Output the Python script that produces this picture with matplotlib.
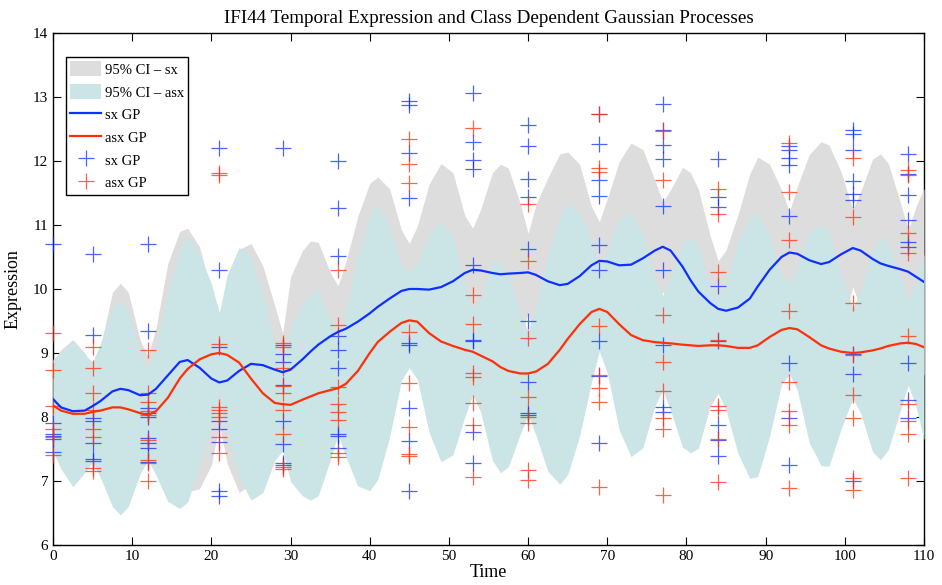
import numpy as np
import matplotlib
matplotlib.use('Agg')
import matplotlib.pyplot as plt
from matplotlib.patches import Patch
from matplotlib.lines import Line2D

plt.rcParams['font.family'] = ['Liberation Serif', 'DejaVu Serif']

# sampling times of the two classes
times = [0, 5, 12, 21, 29, 36, 45, 53, 60, 69, 77, 84, 93, 101, 108]

# observed expression per time point
sx_obs = [
    [10.70, 7.90, 7.74, 7.71, 7.65, 7.45],
    [10.55, 9.28, 7.98, 7.94, 7.60, 7.34, 7.31],
    [10.70, 9.35, 8.14, 8.06, 8.00, 7.67, 7.60, 7.51, 7.30],
    [12.21, 10.29, 9.10, 7.93, 7.82, 7.61, 6.84, 6.76],
    [12.20, 9.12, 8.99, 8.86, 8.50, 7.93, 7.58, 7.28, 7.25],
    [12.00, 11.26, 10.51, 9.26, 9.05, 8.76, 7.73, 7.70, 7.51],
    [12.93, 12.87, 12.13, 11.42, 9.15, 9.12, 8.14, 7.63, 6.85],
    [13.07, 12.30, 12.02, 11.87, 10.38, 9.21, 9.18, 7.77, 7.28],
    [12.56, 12.24, 11.72, 11.44, 10.62, 9.50, 8.55, 8.07, 8.03],
    [12.73, 12.27, 11.70, 11.45, 10.69, 10.30, 9.18, 8.64, 7.59],
    [12.89, 12.48, 12.25, 12.03, 11.29, 10.30, 9.12, 8.15, 8.08],
    [12.03, 11.43, 11.28, 10.04, 9.18, 7.87, 7.64, 7.39],
    [12.23, 12.17, 12.04, 11.94, 11.14, 8.85, 7.98, 7.25],
    [12.48, 12.42, 12.17, 11.69, 11.49, 11.39, 8.99, 8.67, 7.00],
    [12.11, 11.80, 11.47, 11.08, 10.74, 10.66, 8.84, 8.27, 7.98],
]
asx_obs = [
    [9.31, 8.74, 8.17, 7.81, 7.68, 7.40],
    [9.10, 8.76, 8.38, 8.11, 7.82, 7.68, 7.20, 7.16],
    [9.04, 8.37, 8.24, 8.10, 8.03, 7.64, 7.33, 7.28, 7.00],
    [11.81, 11.78, 9.14, 8.16, 8.11, 8.06, 8.00, 7.69, 7.43],
    [9.16, 9.10, 8.76, 8.48, 8.37, 8.11, 7.73, 7.22, 7.19],
    [10.30, 9.43, 8.47, 8.21, 8.08, 7.95, 7.44, 7.38],
    [12.35, 11.96, 11.66, 9.33, 8.53, 7.85, 7.42, 7.39],
    [12.51, 9.90, 9.46, 8.68, 8.63, 8.22, 7.87, 7.07],
    [11.33, 10.43, 9.23, 8.32, 8.00, 7.90, 7.17, 7.02],
    [12.74, 11.89, 11.83, 9.42, 8.66, 8.45, 8.23, 6.91],
    [12.47, 11.71, 9.59, 8.86, 8.41, 7.98, 7.81, 6.78],
    [11.57, 11.17, 10.27, 9.21, 8.17, 8.11, 7.65, 6.98],
    [12.28, 11.52, 10.77, 9.66, 8.55, 8.10, 7.87, 6.89],
    [12.04, 11.13, 9.78, 8.97, 8.34, 7.98, 7.04, 6.86],
    [11.86, 11.78, 10.87, 10.56, 9.26, 8.21, 7.93, 7.74, 7.04],
]

t_grid = [0, 1, 2.5, 4, 5,
          6, 7.5, 8.5, 9.5, 11, 12,
          13, 14.5, 16, 17, 18.5, 20, 21,
          22, 23.5, 25, 26.5, 28, 29,
          30, 31.5, 32.5, 33.5, 35, 36,
          37, 38.5, 40, 41, 42.5, 44, 45,
          46, 47.5, 49, 50.5, 52, 53,
          54, 55.5, 56.5, 57.5, 59, 60,
          61, 62.5, 64, 65, 66.5, 68, 69,
          70, 71.5, 73, 74.5, 76, 77,
          78, 79.5, 80.5, 81.5, 83, 84,
          85, 86.5, 88, 89, 90.5, 92, 93,
          94, 95.5, 97, 98, 99.5, 101,
          102, 103.5, 104.5, 105.5, 107, 108,
          109, 110]
sx_mean = [8.28, 8.15, 8.09, 8.10, 8.17,
           8.25, 8.40, 8.44, 8.42, 8.34, 8.35,
           8.44, 8.65, 8.86, 8.89, 8.77, 8.60, 8.54,
           8.57, 8.72, 8.83, 8.81, 8.74, 8.70,
           8.74, 8.90, 9.02, 9.13, 9.26, 9.33,
           9.38, 9.49, 9.62, 9.72, 9.85, 9.97, 10.00,
           10.00, 9.99, 10.03, 10.12, 10.25, 10.30,
           10.29, 10.25, 10.23, 10.24, 10.25, 10.26,
           10.22, 10.12, 10.06, 10.08, 10.20, 10.37, 10.44,
           10.43, 10.37, 10.38, 10.48, 10.60, 10.66,
           10.60, 10.35, 10.14, 9.96, 9.78, 9.69,
           9.66, 9.71, 9.85, 10.04, 10.30, 10.50, 10.57,
           10.55, 10.45, 10.39, 10.42, 10.54, 10.64,
           10.60, 10.47, 10.40, 10.36, 10.31, 10.27,
           10.19, 10.11]
asx_mean = [8.18, 8.10, 8.05, 8.05, 8.08,
            8.10, 8.15, 8.15, 8.12, 8.06, 8.03,
            8.09, 8.30, 8.60, 8.75, 8.90, 8.98, 9.00,
            8.97, 8.85, 8.60, 8.37, 8.22, 8.20,
            8.19, 8.27, 8.32, 8.37, 8.42, 8.45,
            8.52, 8.72, 9.00, 9.17, 9.33, 9.47, 9.51,
            9.49, 9.31, 9.18, 9.11, 9.05, 9.02,
            8.96, 8.87, 8.78, 8.72, 8.68, 8.68,
            8.71, 8.83, 9.05, 9.22, 9.45, 9.64, 9.69,
            9.64, 9.45, 9.28, 9.20, 9.17, 9.16,
            9.15, 9.13, 9.12, 9.11, 9.12, 9.12,
            9.11, 9.08, 9.08, 9.12, 9.25, 9.36, 9.39,
            9.37, 9.25, 9.12, 9.07, 9.02, 9.00,
            9.01, 9.04, 9.07, 9.11, 9.15, 9.16,
            9.14, 9.09]
# half widths of the 95% intervals
sx_ci = [0.60, 0.90, 1.12, 0.90, 0.62,
         0.85, 1.55, 1.65, 1.53, 0.86, 0.60,
         0.95, 1.75, 2.04, 2.06, 1.89, 1.35, 0.65,
         1.30, 1.90, 1.88, 1.55, 1.00, 0.61,
         1.45, 1.70, 1.73, 1.60, 1.00, 0.72,
         1.05, 1.65, 2.03, 2.03, 1.72, 0.95, 0.71,
         0.98, 1.65, 1.93, 1.70, 0.90, 0.65,
         0.95, 1.57, 1.72, 1.65, 1.09, 0.61,
         1.10, 1.62, 2.05, 2.06, 1.75, 0.92, 0.61,
         0.98, 1.62, 1.90, 1.70, 1.10, 0.70,
         0.95, 1.55, 1.68, 1.60, 1.05, 0.75,
         0.95, 1.45, 1.95, 2.02, 1.65, 1.05, 0.64,
         1.05, 1.65, 1.91, 1.83, 1.30, 0.60,
         0.92, 1.56, 1.71, 1.60, 1.05, 0.65,
         1.10, 1.46]
asx_ci = [0.72, 0.91, 1.14, 0.92, 0.78,
          1.05, 1.55, 1.68, 1.52, 0.95, 0.70,
          1.00, 1.62, 2.03, 2.08, 1.65, 1.10, 0.63,
          1.25, 1.80, 1.90, 1.55, 0.90, 0.72,
          1.20, 1.50, 1.62, 1.60, 1.10, 0.72,
          1.15, 1.80, 2.15, 2.15, 1.65, 0.90, 0.74,
          0.90, 1.55, 1.88, 1.70, 1.05, 0.67,
          0.88, 1.55, 1.65, 1.50, 0.95, 0.65,
          1.00, 1.68, 2.10, 2.12, 1.75, 1.10, 0.66,
          0.95, 1.65, 1.90, 1.68, 1.00, 0.74,
          1.05, 1.60, 1.68, 1.60, 0.95, 0.75,
          1.00, 1.65, 2.04, 2.05, 1.55, 0.85, 0.72,
          0.95, 1.65, 1.88, 1.84, 1.22, 0.71,
          0.95, 1.58, 1.74, 1.62, 1.05, 0.66,
          0.98, 1.45]

grey = '#dddddd'
cyan = '#cbe4e5'
blue = '#0f2fff'
red = '#ff2f0a'

t = np.array(t_grid)
m_sx, m_asx = np.array(sx_mean), np.array(asx_mean)
c_sx, c_asx = np.array(sx_ci), np.array(asx_ci)

fig = plt.figure(figsize=(9.42, 5.85), dpi=100)
ax = fig.add_axes([0.0563, 0.0684, 0.9246, 0.8752])

ax.fill_between(t, m_sx - c_sx, m_sx + c_sx, color=grey, lw=0, zorder=2.6)
ax.fill_between(t, m_asx - c_asx, m_asx + c_asx, color=cyan, lw=0, zorder=2.7)

for tp, sv, av in zip(times, sx_obs, asx_obs):
    ax.plot([tp] * len(sv), sv, '+', color=blue, ms=11, mew=0.9, alpha=0.75,
            zorder=3, clip_on=False)
    ax.plot([tp] * len(av), av, '+', color=red, ms=11, mew=0.9, alpha=0.75,
            zorder=3, clip_on=False)

ax.plot(t, m_sx, color=blue, lw=1.6, zorder=4)
ax.plot(t, m_asx, color=red, lw=1.6, zorder=4)

ax.set_xlim(0, 110)
ax.set_ylim(6, 14)
ax.set_xticks(np.arange(0, 111, 10))
ax.set_yticks(np.arange(6, 15, 1))
ax.tick_params(direction='in', top=True, right=True, length=6, width=0.8, labelsize=11)
for s in ax.spines.values():
    s.set_linewidth(1.0)

ax.set_xlabel('Time', fontsize=13, labelpad=1)
ax.set_ylabel('Expression', fontsize=13, labelpad=8)
ax.set_title('IFI44 Temporal Expression and Class Dependent Gaussian Processes',
             fontsize=13.8, pad=7)

handles = [Patch(facecolor=grey, edgecolor='none'),
           Patch(facecolor=cyan, edgecolor='none'),
           Line2D([], [], color=blue, lw=1.6),
           Line2D([], [], color=red, lw=1.6),
           Line2D([], [], ls='none', marker='+', color=blue, ms=11, mew=0.9, alpha=0.75),
           Line2D([], [], ls='none', marker='+', color=red, ms=11, mew=0.9, alpha=0.75)]
labels = ['95% CI \u2013 sx', '95% CI \u2013 asx', 'sx GP', 'asx GP', 'sx GP', 'asx GP']
leg = ax.legend(handles, labels, loc='upper left', bbox_to_anchor=(0.015, 0.953),
                borderaxespad=0, fontsize=10.5, fancybox=False, framealpha=1,
                edgecolor='black', handlelength=2.1, handleheight=1.2,
                handletextpad=0.25, labelspacing=0.5, borderpad=0.3)
leg.get_frame().set_linewidth(1.0)
leg.set_zorder(10)

fig.savefig('out.png', dpi=100)
